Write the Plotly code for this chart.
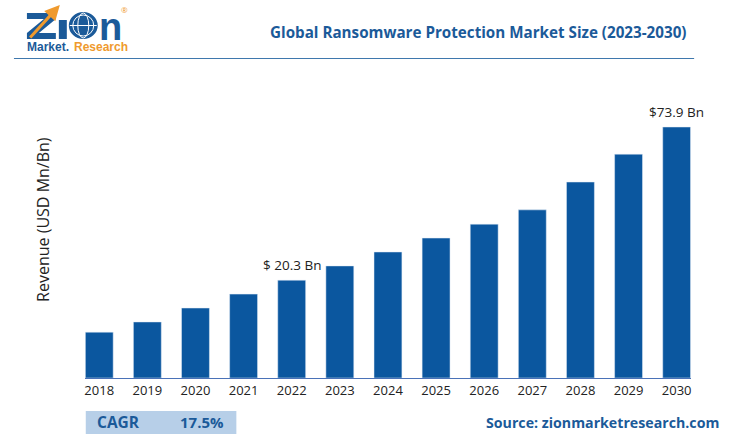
import plotly.graph_objects as go

# ================================
# Data
# ================================
years = [2018, 2019, 2020, 2021, 2022, 2023, 2024, 2025, 2026, 2027, 2028, 2029, 2030]
revenue = [13.5, 16.5, 20.6, 24.7, 28.8, 33.0, 37.1, 41.2, 45.3, 49.5, 57.7, 65.9, 73.9]
bar_labels = {2022: "$ 20.3 Bn", 2030: "$73.9 Bn"}

title_text = "Global Ransomware Protection Market Size (2023-2030)"
y_title = "Revenue (USD Mn/Bn)"
cagr_name = "CAGR"
cagr_value = "17.5%"
source_text = "Source: zionmarketresearch.com"

W, H = 742, 439
BLUE = "#0b579f"
TEXT_BLUE = "#1b5a99"
ORANGE = "#ef9a2e"
FONT = "Open Sans"


def px(x):
    return x / W


def py(y):
    return 1 - y / H


def note(x, y, text, size, color="#222222", bold=False, anchor="center", family=FONT, angle=0, **kw):
    fig.add_annotation(
        x=px(x), y=py(y), xref="paper", yref="paper", text=f"<b>{text}</b>" if bold else text,
        showarrow=False, xanchor=anchor, yanchor="middle", textangle=angle,
        font=dict(size=size, color=color, family=family), **kw,
    )


def box(x0, y0, x1, y1, **kw):
    fig.add_shape(type=kw.pop("kind", "rect"), xref="paper", yref="paper",
                  x0=px(x0), x1=px(x1), y0=py(y0), y1=py(y1), **kw)


def poly(points, color):
    d = "M " + " L ".join(f"{px(a):.5f},{py(b):.5f}" for a, b in points) + " Z"
    fig.add_shape(type="path", xref="paper", yref="paper", path=d,
                  fillcolor=color, line=dict(width=0))


# ================================
# Bars
# ================================
fig = go.Figure(go.Bar(x=years, y=revenue, marker_color=BLUE, width=0.58))

for yr, label in bar_labels.items():
    fig.add_annotation(x=yr, y=revenue[years.index(yr)], text=label, showarrow=False,
                       yshift=15, font=dict(size=13.5, color="#222222", family=FONT))

fig.update_layout(
    width=W, height=H, margin=dict(l=0, r=0, t=0, b=0),
    paper_bgcolor="white", plot_bgcolor="white", showlegend=False,
    xaxis=dict(domain=[px(84.5), px(691.5)], range=[2017.71, 2030.29], tickvals=years,
               ticks="", showgrid=False, showline=True, linecolor="#4a72b8", linewidth=1,
               tickfont=dict(size=13, color="#222222", family=FONT)),
    yaxis=dict(domain=[py(378), py(110)], range=[0, 73.9 * 268 / 251], visible=False),
)

# ================================
# Header
# ================================
note(479, 32, title_text, 15.2, TEXT_BLUE, bold=True)
box(13, 58.5, 695, 58.5, kind="line", line=dict(color="#3f78ad", width=1))

# logo
poly([(26, 13), (55, 13), (55, 19), (38, 33), (55, 33), (55, 39), (26, 39), (26, 33), (43, 19), (26, 19)], "#1b5a99")
poly([(58, 20), (66, 20), (66, 39), (58, 39)], "#1b5a99")
box(68, 12, 97, 39, kind="circle", fillcolor="#1b5a99", line=dict(width=0))
box(72, 15, 93, 36, kind="circle", line=dict(color="white", width=1))
box(77, 13, 88, 38, kind="circle", line=dict(color="white", width=1))
box(69, 25.5, 96, 25.5, kind="line", line=dict(color="white", width=1))
note(110, 27, "n", 38, "#1b5a99", bold=True, family="Liberation Sans", height=26)
fig.add_annotation(x=px(59), y=py(5), xref="paper", yref="paper", ax=-31, ay=34,
                   text="", showarrow=True,
                   arrowhead=2, arrowsize=1, arrowwidth=3, arrowcolor=ORANGE)
note(124, 10, "®", 8, ORANGE)
note(24, 47, "Market.", 12, "#1b5a99", bold=True, family="Liberation Sans", anchor="left")
note(71, 47, "Research", 12, ORANGE, bold=True, family="Liberation Sans", anchor="left")

# ================================
# Side and footer
# ================================
note(42, 219, y_title, 16, angle=-90)
box(85, 411, 236, 434, fillcolor="#b7cfe8", line=dict(width=0))
note(94, 422, cagr_name, 15.5, TEXT_BLUE, bold=True, anchor="left")
note(226, 422, cagr_value, 15, TEXT_BLUE, bold=True, anchor="right")
note(722, 422, source_text, 14.2, TEXT_BLUE, bold=True, anchor="right")

# body has a default 8px margin which pushes the figure off the window
fig.write_html("out.html", post_script="document.body.style.margin='0';",
               config={"displayModeBar": False})
